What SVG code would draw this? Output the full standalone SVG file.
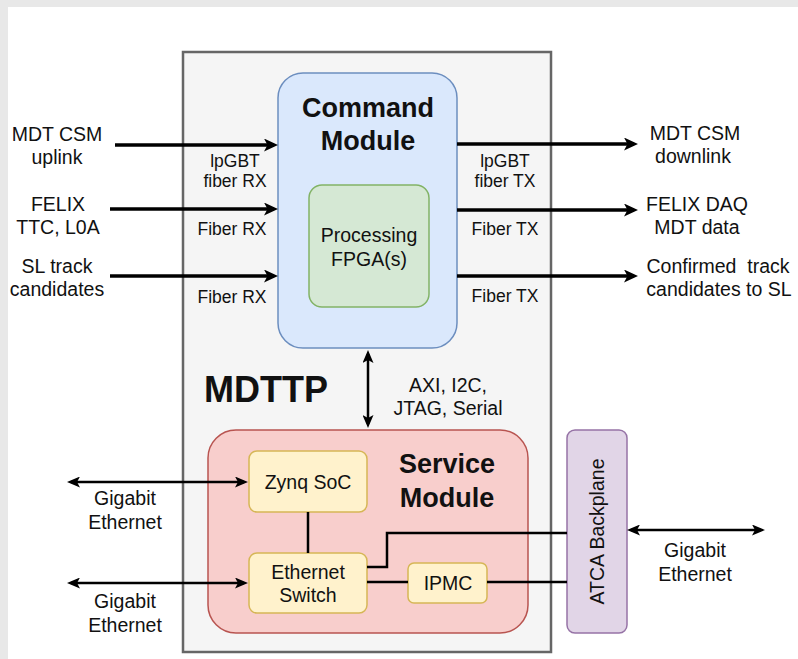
<svg xmlns="http://www.w3.org/2000/svg" width="798" height="659" viewBox="0 0 798 659">
<style>
text{font-family:"Liberation Sans",Arial,sans-serif;fill:#111;text-anchor:middle}
.ext{font-size:19.5px}
.port{font-size:17.5px}
.title{font-size:27px;font-weight:bold}
.big{font-size:36px;font-weight:bold}
.thick{stroke:#000;stroke-width:3.3;fill:none}
.med{stroke:#000;stroke-width:2.5;fill:none}
.sub{fill:#fff2cc;stroke:#d6b656;stroke-width:1.5}
</style>
<defs>
<marker id="ah" viewBox="0 0 14 13" refX="10" refY="6.5" markerWidth="14" markerHeight="13" markerUnits="userSpaceOnUse" orient="auto-start-reverse">
<path d="M0,0 L14,6.5 L0,13 L3.5,6.5 Z" fill="#000"/>
</marker>
<marker id="ah2" viewBox="0 0 13 11" refX="9" refY="5.5" markerWidth="13" markerHeight="11" markerUnits="userSpaceOnUse" orient="auto-start-reverse">
<path d="M0,0 L13,5.5 L0,11 L3,5.5 Z" fill="#000"/>
</marker>
</defs>
<rect x="0" y="0" width="798" height="659" fill="#e8e8e8"/>
<rect x="8" y="7" width="790" height="652" fill="#ffffff"/>

<g id="mdttp">
<rect x="183" y="52" width="368" height="600" fill="#f5f5f5" stroke="#666" stroke-width="2.5"/>
<text class="big" x="266" y="402">MDTTP</text>
</g>

<g id="command-module">
<rect x="278" y="73" width="179" height="275" rx="25" ry="25" fill="#dae8fc" stroke="#6c8ebf" stroke-width="1.5"/>
<text class="title" x="368" y="117">Command</text>
<text class="title" x="368" y="150">Module</text>
</g>

<g id="processing-fpga">
<rect x="309" y="185" width="120" height="122" rx="13" ry="13" fill="#d5e8d4" stroke="#82b366" stroke-width="1.5"/>
<text class="ext" x="369" y="242">Processing</text>
<text class="ext" x="369" y="266">FPGA(s)</text>
</g>

<g id="service-module">
<rect x="208" y="430" width="320" height="203" rx="28" ry="28" fill="#f8cecc" stroke="#b85450" stroke-width="1.5"/>
<text class="title" x="447" y="473">Service</text>
<text class="title" x="447" y="507">Module</text>
</g>

<g id="zynq-soc">
<rect class="sub" x="249" y="451" width="118" height="61" rx="8" ry="8"/>
<text class="ext" x="308" y="489">Zynq SoC</text>
</g>

<g id="ethernet-switch">
<rect class="sub" x="249" y="553" width="118" height="60" rx="8" ry="8"/>
<text class="ext" x="308" y="579">Ethernet</text>
<text class="ext" x="308" y="602">Switch</text>
</g>

<g id="ipmc">
<rect class="sub" x="408" y="563" width="79" height="40" rx="6" ry="6"/>
<text class="ext" x="448" y="590">IPMC</text>
</g>

<g id="atca-backplane">
<rect x="567" y="430" width="60" height="203" rx="8" ry="8" fill="#e1d5e7" stroke="#9673a6" stroke-width="1.5"/>
<text class="ext" transform="translate(604,531.5) rotate(-90)" x="0" y="0">ATCA Backplane</text>
</g>

<g id="connectors">
<line class="thick" x1="115" y1="145" x2="274" y2="145" marker-end="url(#ah)"/>
<line class="thick" x1="110" y1="209" x2="274" y2="209" marker-end="url(#ah)"/>
<line class="thick" x1="110" y1="276" x2="274" y2="276" marker-end="url(#ah)"/>
<line class="thick" x1="457" y1="144" x2="634" y2="144" marker-end="url(#ah)"/>
<line class="thick" x1="457" y1="210" x2="634" y2="210" marker-end="url(#ah)"/>
<line class="thick" x1="457" y1="276" x2="634" y2="276" marker-end="url(#ah)"/>
<line class="med" x1="368" y1="354" x2="368" y2="424" marker-start="url(#ah2)" marker-end="url(#ah2)"/>
<line class="med" x1="71" y1="482" x2="244" y2="482" marker-start="url(#ah2)" marker-end="url(#ah2)"/>
<line class="med" x1="71" y1="583" x2="244" y2="583" marker-start="url(#ah2)" marker-end="url(#ah2)"/>
<line class="med" x1="631" y1="530" x2="761" y2="530" marker-start="url(#ah2)" marker-end="url(#ah2)"/>
<line class="med" x1="308" y1="512" x2="308" y2="553"/>
<polyline class="med" points="367,567 387,567 387,533 567,533"/>
<line class="med" x1="367" y1="582" x2="408" y2="582"/>
<line class="med" x1="487" y1="582" x2="567" y2="582"/>
</g>

<g id="labels">
<text class="ext" x="57" y="141">MDT CSM</text>
<text class="ext" x="57" y="164">uplink</text>
<text class="ext" x="58" y="211">FELIX</text>
<text class="ext" x="58" y="234">TTC, L0A</text>
<text class="ext" x="57" y="273">SL track</text>
<text class="ext" x="57" y="296">candidates</text>

<text class="port" x="235" y="167">lpGBT</text>
<text class="port" x="235" y="187">fiber RX</text>
<text class="port" x="232" y="235">Fiber RX</text>
<text class="port" x="232" y="303">Fiber RX</text>

<text class="port" x="505" y="167">lpGBT</text>
<text class="port" x="505" y="187">fiber TX</text>
<text class="port" x="505" y="235">Fiber TX</text>
<text class="port" x="505" y="302">Fiber TX</text>

<text class="ext" x="695" y="140">MDT CSM</text>
<text class="ext" x="693" y="163">downlink</text>
<text class="ext" x="697" y="211">FELIX DAQ</text>
<text class="ext" x="697" y="234">MDT data</text>
<text class="ext" x="718" y="273" xml:space="preserve">Confirmed  track</text>
<text class="ext" x="719" y="296">candidates to SL</text>

<text class="ext" x="448" y="392">AXI, I2C,</text>
<text class="ext" x="448" y="415">JTAG, Serial</text>

<text class="ext" x="125" y="505">Gigabit</text>
<text class="ext" x="125" y="529">Ethernet</text>
<text class="ext" x="125" y="608">Gigabit</text>
<text class="ext" x="125" y="632">Ethernet</text>
<text class="ext" x="695" y="557">Gigabit</text>
<text class="ext" x="695" y="581">Ethernet</text>
</g>
</svg>
